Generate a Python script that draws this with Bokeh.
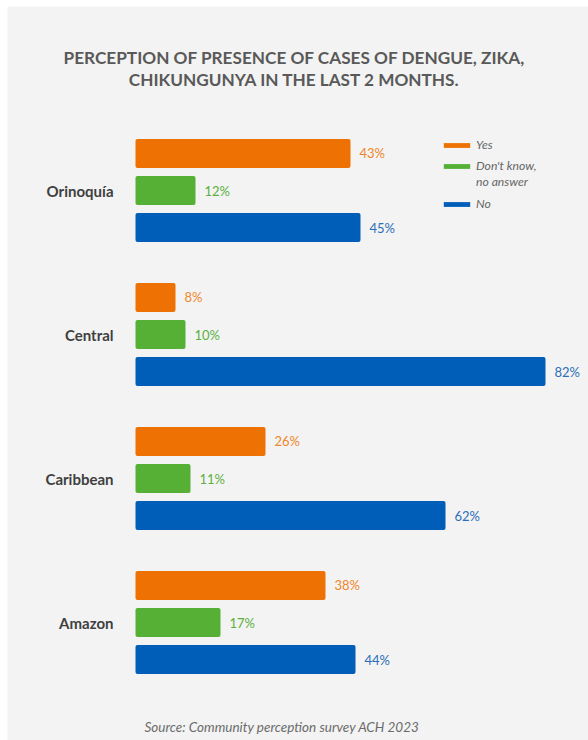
from bokeh.plotting import figure
from bokeh.models import ColumnDataSource, Range1d, Label, Legend, LegendItem
from bokeh.transform import dodge
from bokeh.core.properties import value
from bokeh.embed import file_html
from bokeh.resources import INLINE

# ---- data ----
regions = ["Orinoquía", "Central", "Caribbean", "Amazon"]
series_names = ["Yes", "Don't know,", "no answer", "No"]
yes_vals = [43, 8, 26, 38]
dk_vals = [12, 10, 11, 17]
no_vals = [45, 82, 62, 44]

title_line1 = "PERCEPTION OF PRESENCE OF CASES OF DENGUE, ZIKA,"
title_line2 = "CHIKUNGUNYA IN THE LAST 2 MONTHS."
source_text = "Source: Community perception survey ACH 2023"

# ---- styles ----
BG = "#f3f3f3"
bar_colors = ["#EE7203", "#56B036", "#005EB8"]
label_colors = ["#F0862A", "#5BB040", "#2B6DB8"]
offsets = [-0.257, 0.0, 0.257]
FONT = "Lato"
W, H = 581, 734

src = ColumnDataSource(dict(
    region=regions,
    idx=list(range(len(regions))),
    yes=yes_vals, dk=dk_vals, no=no_vals,
    yes_lbl=[f"{v}%" for v in yes_vals],
    dk_lbl=[f"{v}%" for v in dk_vals],
    no_lbl=[f"{v}%" for v in no_vals],
))

# 5 px per percentage point, 144 px per region group
p = figure(width=W, height=H,
           x_range=Range1d(-128 / 5, (W - 128) / 5),
           y_range=Range1d((H - 184) / 144, -184 / 144),
           x_axis_type=None, y_axis_type=None,
           output_backend="svg", toolbar_location=None,
           min_border=0, min_border_left=0, min_border_right=0,
           min_border_top=0, min_border_bottom=0,
           background_fill_color=BG, border_fill_color=BG,
           outline_line_color=None, margin=(6, 0, 0, 7))

renderers = []
for key, off, col, lcol in zip(["yes", "dk", "no"], offsets, bar_colors, label_colors):
    r = p.hbar(y=dodge("idx", off), left=0, right=key, height=0.2,
               fill_color=col, line_color=None, border_radius=2, source=src)
    renderers.append(r)
    p.text(x=key, y=dodge("idx", off), text=key + "_lbl",
           x_offset=9, text_baseline="middle", text_align="left",
           text_font=value(FONT), text_font_size="13px", text_color=lcol, source=src)

# region names, right-aligned just left of the bars' base
p.text(x=0, y="idx", text="region", x_offset=-22, text_align="right", text_baseline="middle",
       text_font=value(FONT), text_font_style="bold", text_font_size="15px",
       text_color="#3f3f3f", source=src)

# invisible renderer used only to carry the second line of a legend label
dummy = p.hbar(y=[], left=[], right=[], height=0.2, fill_alpha=0, line_alpha=0)

legend_style = dict(glyph_width=33, glyph_height=6, label_height=14,
                    label_standoff=3, padding=0, margin=0,
                    label_text_font=FONT, label_text_font_style="italic",
                    label_text_font_size="12.2px", label_text_color="#666666",
                    border_line_color=None, background_fill_alpha=0)
legend_a = Legend(items=[LegendItem(label=series_names[0], renderers=[renderers[0]]),
                         LegendItem(label=series_names[1], renderers=[renderers[1]])],
                  location=(433, 567), spacing=6, **legend_style)
legend_b = Legend(items=[LegendItem(label=series_names[2], renderers=[dummy]),
                         LegendItem(label=series_names[3], renderers=[renderers[2]])],
                  location=(433, 529), spacing=7, **legend_style)
p.add_layout(legend_a)
p.add_layout(legend_b)

title_style = dict(x_units="screen", y_units="screen", text_align="center",
                   text_baseline="middle", text_font=FONT, text_font_style="bold",
                   text_font_size="17.2px", text_color="#595959")
p.add_layout(Label(x=287, y=H - 51, text=title_line1, **title_style))
p.add_layout(Label(x=287, y=H - 73, text=title_line2, **title_style))
p.add_layout(Label(x=137, y=14, x_units="screen", y_units="screen", text=source_text,
                   text_align="left", text_baseline="middle", text_font=FONT,
                   text_font_style="italic", text_font_size="13.5px", text_color="#6b6b6b"))

open("out.html", "w").write(file_html(p, INLINE))
